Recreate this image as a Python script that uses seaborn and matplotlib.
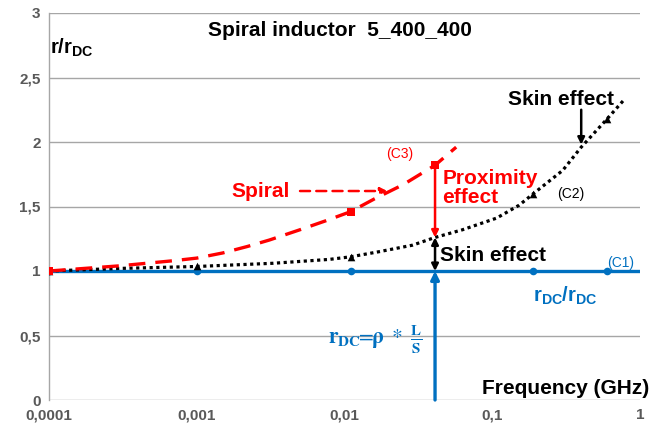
import matplotlib
matplotlib.use("Agg")
import matplotlib.pyplot as plt
import seaborn as sns
import pandas as pd

# ---- data ----
freq_skin = [0.0001, 0.0003, 0.001, 0.0033, 0.0079, 0.011, 0.0172, 0.0288, 0.041,
             0.063, 0.107, 0.152, 0.19, 0.3, 0.4, 0.6, 0.77]
r_skin = [1.0, 1.02, 1.035, 1.06, 1.09, 1.11, 1.15, 1.20, 1.26,
          1.32, 1.41, 1.51, 1.6, 1.78, 1.96, 2.18, 2.32]
skin_marker_freq = [0.0001, 0.001, 0.011, 0.19, 0.6]

freq_prox = [0.0001, 0.0003, 0.0007, 0.001, 0.0015, 0.0022, 0.0031, 0.005, 0.0075,
             0.011, 0.016, 0.025, 0.041, 0.057]
r_prox = [1.0, 1.04, 1.08, 1.10, 1.14, 1.19, 1.24, 1.32, 1.39,
          1.46, 1.56, 1.67, 1.82, 1.96]
prox_marker_freq = [0.0001, 0.011, 0.041]

freq_dc = [0.0001, 0.001, 0.011, 0.19, 0.6, 1.0]
r_dc = [1.0, 1.0, 1.0, 1.0, 1.0, 1.0]
dc_marker_freq = [0.0001, 0.001, 0.011, 0.19, 0.6]

f_cut = 0.041        # frequency of the vertical comparison
f_skin_arrow = 0.4   # frequency pointed by the upper "Skin effect" arrow

x_ticks = [0.0001, 0.001, 0.01, 0.1, 1]
x_tick_labels = ["0,0001", "0,001", "0,01", "0,1", "1"]
y_ticks = [0, 0.5, 1, 1.5, 2, 2.5, 3]
y_tick_labels = ["0", "0,5", "1", "1,5", "2", "2,5", "3"]

BLUE = "#0070C0"
RED = "#FF0000"
GRAY = "#595959"

sns.set_theme(style="white")
plt.rcParams["font.family"] = ["Liberation Sans", "DejaVu Sans"]
plt.rcParams["mathtext.fontset"] = "custom"
plt.rcParams["mathtext.rm"] = "Liberation Sans"
plt.rcParams["mathtext.bf"] = "Liberation Sans:bold"
plt.rcParams["mathtext.it"] = "Liberation Sans:italic"

fig = plt.figure(figsize=(6.67, 4.29), dpi=100)
ax = fig.add_axes([49 / 667, 1 - 400 / 429, 591 / 667, 387 / 429])

skin = pd.DataFrame({"f": freq_skin, "r": r_skin})
prox = pd.DataFrame({"f": freq_prox, "r": r_prox})
dc = pd.DataFrame({"f": freq_dc, "r": r_dc})

sns.lineplot(data=dc, x="f", y="r", color=BLUE, lw=2.4, ax=ax, zorder=3)
sns.lineplot(data=skin, x="f", y="r", color="black", lw=2.3, ax=ax, zorder=4,
             linestyle=(0, (1, 1.1)))
sns.lineplot(data=prox, x="f", y="r", color=RED, lw=2.4, ax=ax, zorder=5,
             linestyle=(0, (5, 3)))

ax.scatter(dc[dc.f.isin(dc_marker_freq)].f, dc[dc.f.isin(dc_marker_freq)].r,
           s=30, marker="o", color=BLUE, zorder=6, linewidths=0)
ax.scatter(skin[skin.f.isin(skin_marker_freq)].f, skin[skin.f.isin(skin_marker_freq)].r,
           s=30, marker="^", color="black", zorder=6, linewidths=0)
ax.scatter(prox[prox.f.isin(prox_marker_freq)].f, prox[prox.f.isin(prox_marker_freq)].r,
           s=36, marker="s", color=RED, zorder=7, linewidths=0)

ax.set_xscale("log")
ax.set_xlim(x_ticks[0], x_ticks[-1])
ax.set_ylim(y_ticks[0], y_ticks[-1])
ax.set_xticks(x_ticks)
ax.set_xticklabels(x_tick_labels)
ax.set_yticks(y_ticks)
ax.set_yticklabels(y_tick_labels)
ax.minorticks_off()
ax.tick_params(axis="both", length=0, labelsize=11, labelcolor=GRAY, pad=6)
for lab in ax.get_xticklabels() + ax.get_yticklabels():
    lab.set_fontweight("bold")
ax.set_xlabel("")
ax.set_ylabel("")
ax.grid(axis="y", color="#A6A6A6", lw=1)
ax.grid(axis="x", visible=False)
for s in ["top", "right", "bottom"]:
    ax.spines[s].set_visible(False)
ax.spines["left"].set_color("#A6A6A6")
ax.spines["left"].set_linewidth(1)

r_skin_cut = skin.loc[skin.f == f_cut, "r"].iloc[0]
r_prox_cut = prox.loc[prox.f == f_cut, "r"].iloc[0]
r_dc_cut = 1.0
r_skin_arrow = skin.loc[skin.f == f_skin_arrow, "r"].iloc[0]

# vertical blue arrow
ax.annotate("", xy=(f_cut, r_dc_cut), xytext=(f_cut, 0),
            arrowprops=dict(arrowstyle="-|>", color=BLUE, lw=2.4, mutation_scale=12,
                            shrinkA=0, shrinkB=0), zorder=8)
# black double arrow (skin effect)
ax.annotate("", xy=(f_cut, r_skin_cut), xytext=(f_cut, r_dc_cut),
            arrowprops=dict(arrowstyle="<|-|>", color="black", lw=1.8, mutation_scale=10,
                            shrinkA=0, shrinkB=0), zorder=8)
# red arrow (proximity effect)
ax.annotate("", xy=(f_cut, r_skin_cut), xytext=(f_cut, r_prox_cut),
            arrowprops=dict(arrowstyle="-|>", color=RED, lw=1.8, mutation_scale=10,
                            shrinkA=0, shrinkB=0), zorder=8)
# upper skin effect arrow
ax.annotate("", xy=(f_skin_arrow, r_skin_arrow + 0.02), xytext=(f_skin_arrow, 2.25),
            arrowprops=dict(arrowstyle="-|>", color="black", lw=1.8, mutation_scale=10,
                            shrinkA=0, shrinkB=0), zorder=8)
# spiral dashed arrow
ax.annotate("", xy=(0.0195, 1.62), xytext=(0.005, 1.62),
            arrowprops=dict(arrowstyle="-|>", color=RED, lw=1.8, mutation_scale=10,
                            linestyle=(0, (4, 2.5)), shrinkA=0, shrinkB=0), zorder=8)

bold = dict(fontsize=15, fontweight="bold")
ax.text(0.00172, 1.62, "Spiral", color=RED, ha="left", va="center", **bold)
ax.text(0.0236, 1.91, "(C3)", color=RED, ha="center", va="center", fontsize=10)
ax.text(0.0459, 1.645, "Proximity\neffect", color=RED, ha="left", va="center",
        linespacing=1.0, **bold)
ax.text(0.0446, 1.12, "Skin effect", color="black", ha="left", va="center", **bold)
ax.text(0.294, 2.33, "Skin effect", color="black", ha="center", va="center", **bold)
ax.text(0.275, 1.6, "(C2)", color="black", ha="left", va="center", fontsize=10)
ax.text(0.6, 1.06, "(C1)", color=BLUE, ha="left", va="center", fontsize=10)
ax.text(0.31, 0.81, r"$\mathbf{r_{DC}/r_{DC}}$", color=BLUE, ha="center", va="center",
        fontsize=14.5, math_fontfamily="custom")
ax.text(0.0162, 0.47,
        r"$\mathbf{r_{DC}}\!\!=\!\!\mathbf{\rho}\ *\ \frac{\mathbf{L}}{\mathbf{S}}$",
        color=BLUE, ha="center", va="center", fontsize=15.5, math_fontfamily="stix")
ax.text(0.733, 0.031, "Frequency (GHz)", color="black", ha="left", va="center",
        transform=ax.transAxes, **bold)
ax.text(0.002, 0.91, r"$\mathbf{r/r_{DC}}$", color="black", ha="left", va="center",
        transform=ax.transAxes, fontsize=14.5, math_fontfamily="custom")
ax.text(0.492, 0.956, "Spiral inductor  5_400_400", color="black", ha="center",
        va="center", transform=ax.transAxes, **bold)

fig.savefig("out.png", dpi=100)
